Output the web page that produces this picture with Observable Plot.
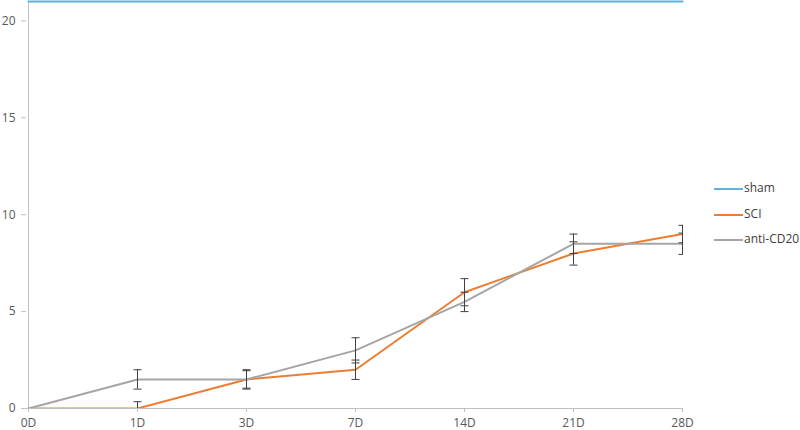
<!DOCTYPE html>
<html>
<head>
<meta charset="utf-8">
<script src="https://cdn.jsdelivr.net/npm/d3@7"></script>
<script src="https://cdn.jsdelivr.net/npm/@observablehq/plot@0.6"></script>
<style>
  html, body { margin: 0; padding: 0; background: #fff; }
  #wrap { position: relative; width: 800px; height: 430px; font-family: "Open Sans", sans-serif; }
  #wrap svg { position: absolute; left: 0; top: 0; }
  #legend { position: absolute; left: 714px; top: 180px; font-size: 12px; color: #404040; }
  .item { position: absolute; left: 0; height: 16px; white-space: nowrap; }
  .item .sw { position: absolute; left: 0; top: 8px; width: 29px; height: 2px; }
  .item span { position: absolute; left: 30px; top: -1px; }
</style>
</head>
<body>
<div id="wrap"><div id="legend"></div></div>
<script>
const days = ["0D", "1D", "3D", "7D", "14D", "21D", "28D"];
const series = ["sham", "SCI", "anti-CD20"];
const colors = ["#5bb5d7", "#ed7d31", "#a5a5a5"];
const shamValues = [21, 21, 21, 21, 21, 21, 21];
const sciValues = [0, 0, 1.5, 2.0, 6.0, 8.0, 9.0];
const sciErr = [0, 0.35, 0.45, 0.5, 0.7, 0.6, 0.45];
const antiValues = [0, 1.5, 1.5, 3.0, 5.5, 8.5, 8.5];
const antiErr = [0, 0.5, 0.5, 0.65, 0.5, 0.5, 0.55];
const yTicks = [0, 5, 10, 15, 20];

const rows = [];
days.forEach((d, i) => {
  rows.push({day: d, series: "sham", value: shamValues[i], err: 0});
  rows.push({day: d, series: "SCI", value: sciValues[i], err: sciErr[i]});
  rows.push({day: d, series: "anti-CD20", value: antiValues[i], err: antiErr[i]});
});
const errRows = rows.filter(r => r.err > 0);
const color = Object.fromEntries(series.map((s, i) => [s, colors[i]]));
const capSymbol = {draw(ctx) { ctx.moveTo(-4, 0); ctx.lineTo(4, 0); }};

const chart = Plot.plot({
  width: 800,
  height: 430,
  marginLeft: 26,
  marginRight: 117,
  marginTop: 1,
  marginBottom: 22,
  style: {fontFamily: "Open Sans, sans-serif", fontSize: "12px", color: "#595959", background: "transparent"},
  x: {type: "point", domain: days, padding: 0, label: null},
  y: {domain: [0, 21], label: null},
  marks: [
    Plot.ruleY([0], {stroke: "#bfbfbf"}),
    Plot.ruleX([days[0]], {stroke: "#bfbfbf"}),
    Plot.axisY({ticks: yTicks, tickSize: 5, tickPadding: 6, stroke: "#bfbfbf", label: null}),
    Plot.axisX({tickSize: 4, tickPadding: 6, stroke: "#bfbfbf", label: null}),
    Plot.line(rows.filter(r => r.series === "sham"), {x: "day", y: "value", stroke: color["sham"], strokeWidth: 2.2}),
    Plot.line(rows.filter(r => r.series === "SCI"), {x: "day", y: "value", stroke: color["SCI"], strokeWidth: 2, clip: true}),
    Plot.line(rows.filter(r => r.series === "anti-CD20"), {x: "day", y: "value", stroke: color["anti-CD20"], strokeWidth: 2, clip: true}),
    Plot.ruleX(errRows, {x: "day", y1: d => d.value - d.err, y2: d => d.value + d.err, stroke: "#404040", strokeWidth: 1, clip: true}),
    Plot.dot(errRows, {x: "day", y: d => d.value + d.err, symbol: capSymbol, stroke: "#404040", fill: "none", strokeWidth: 1, clip: true}),
    Plot.dot(errRows, {x: "day", y: d => d.value - d.err, symbol: capSymbol, stroke: "#404040", fill: "none", strokeWidth: 1, clip: true})
  ]
});
document.getElementById("wrap").prepend(chart);

const legend = document.getElementById("legend");
series.forEach((s, i) => {
  const it = document.createElement("div");
  it.className = "item";
  it.style.top = (i * 25.5) + "px";
  it.innerHTML = `<div class="sw" style="background:${colors[i]}"></div><span>${s}</span>`;
  legend.appendChild(it);
});
</script>
</body>
</html>
